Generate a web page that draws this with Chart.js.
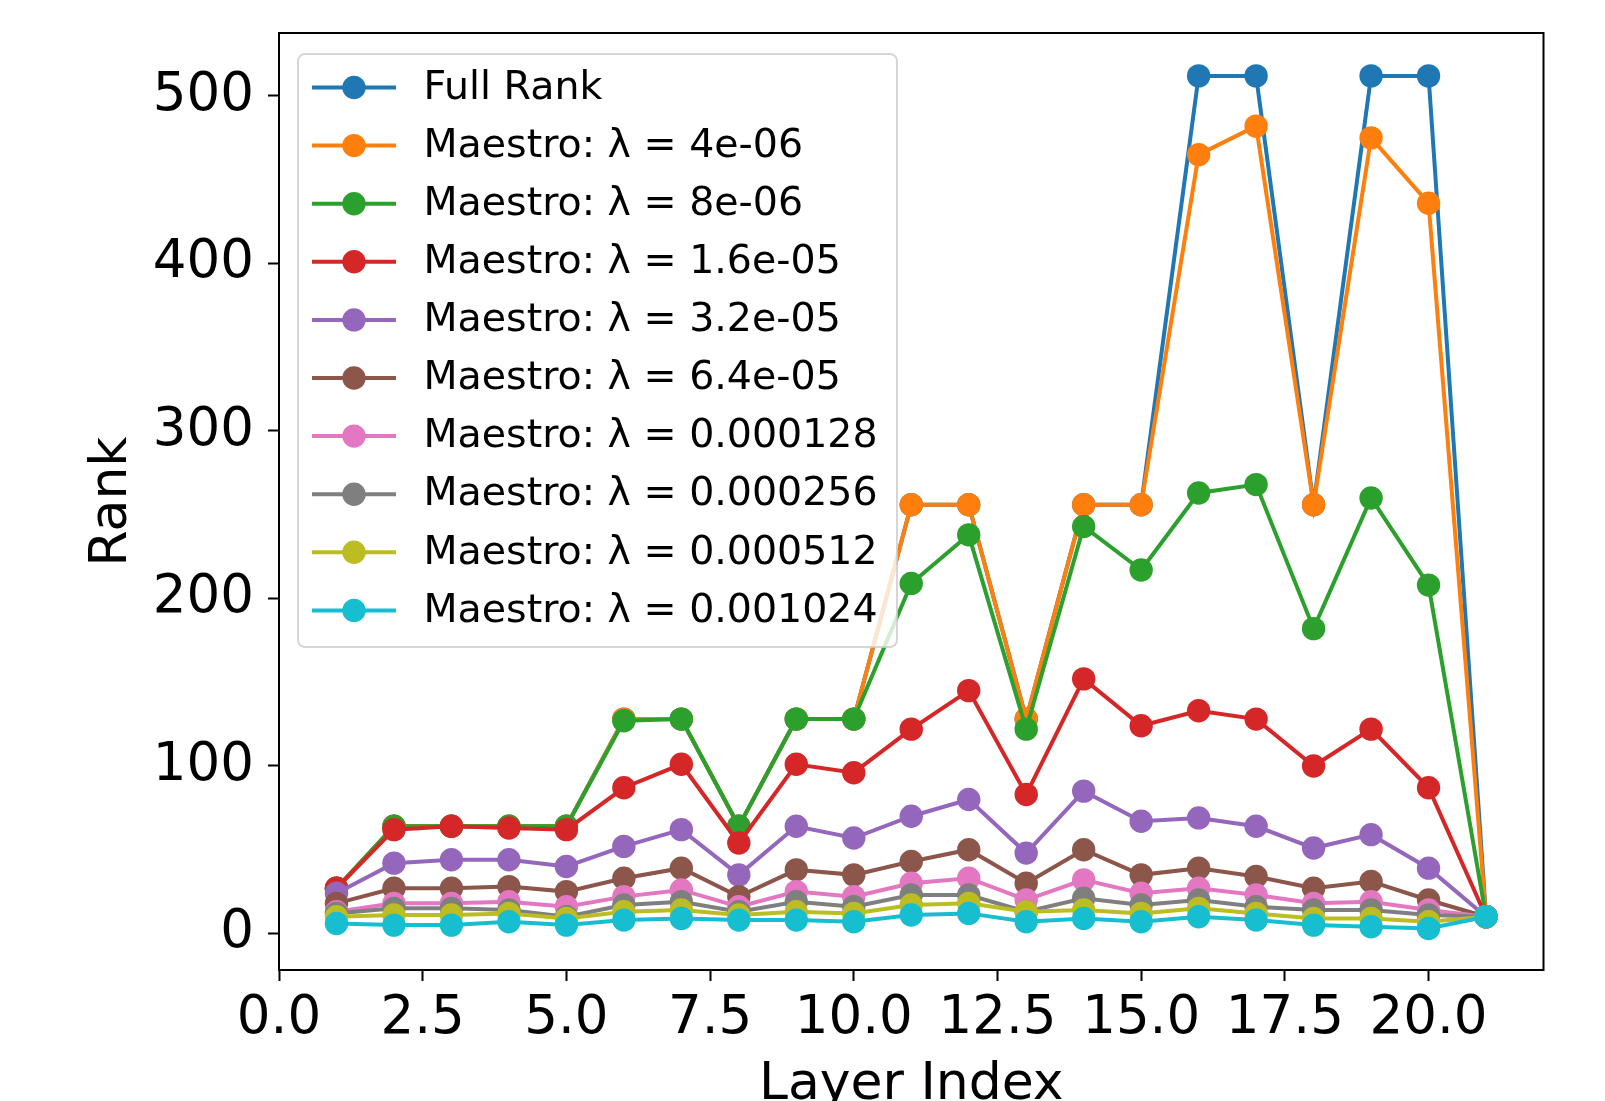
<!DOCTYPE html>
<html>
<head>
<meta charset="utf-8">
<script src="https://cdn.jsdelivr.net/npm/chart.js@4.4.0/dist/chart.umd.min.js"></script>
<style>
  body { margin: 0; background: #fff; }
  #wrap { width: 1605px; height: 1101px; }
</style>
</head>
<body>
<div id="wrap"><canvas id="myChart" width="1605" height="1101"></canvas></div>
<script>
const layers = [1, 2, 3, 4, 5, 6, 7, 8, 9, 10, 11, 12, 13, 14, 15, 16, 17, 18, 19, 20, 21];

const fullRank   = [27, 64, 64, 64, 64, 128, 128, 64, 128, 128, 256, 256, 128, 256, 256, 512, 512, 256, 512, 512, 10];
const lam4e6     = [27, 64, 64, 64, 64, 128, 128, 64, 128, 128, 256, 256, 128, 256, 256, 465, 482, 256, 475, 436, 10];
const lam8e6     = [27, 64, 64, 64, 64, 127, 128, 64, 128, 128, 209, 238, 122, 243, 217, 263, 268, 182, 260, 208, 10];
const lam16e6    = [27, 62, 64, 63, 62, 87, 101, 54, 101, 96, 122, 145, 83, 152, 124, 133, 128, 100, 122, 87, 10];
const lam32e6    = [24, 42, 44, 44, 40, 52, 62, 35, 64, 57, 70, 80, 48, 85, 67, 69, 64, 51, 59, 39, 10];
const lam64e6    = [18, 27, 27, 28, 25, 33, 39, 22, 38, 35, 43, 50, 30, 50, 35, 39, 34, 27, 31, 20, 10];
const lam128e6   = [13, 18, 18, 19, 16, 22, 26, 16, 25, 22, 30, 33, 20, 32, 24, 27, 23, 18, 19, 14, 10];
const lam256e6   = [12, 15, 15, 14, 10, 17, 19, 13, 19, 16, 23, 23, 13, 21, 17, 20, 16, 14, 14, 11, 10];
const lam512e6   = [10, 11, 11, 12, 9, 13, 14, 11, 13, 12, 17, 18, 13, 14, 12, 15, 12, 9, 9, 7, 10];
const lam1024e6  = [6, 5, 5, 7, 5, 8, 9, 8, 8, 7, 11, 12, 7, 9, 7, 10, 8, 5, 4, 3, 10];

const seriesLabels = [
  'Full Rank',
  'Maestro: λ = 4e-06',
  'Maestro: λ = 8e-06',
  'Maestro: λ = 1.6e-05',
  'Maestro: λ = 3.2e-05',
  'Maestro: λ = 6.4e-05',
  'Maestro: λ = 0.000128',
  'Maestro: λ = 0.000256',
  'Maestro: λ = 0.000512',
  'Maestro: λ = 0.001024'
];
const seriesValues = [fullRank, lam4e6, lam8e6, lam16e6, lam32e6, lam64e6, lam128e6, lam256e6, lam512e6, lam1024e6];
const seriesColors = ['#1f77b4', '#ff7f0e', '#2ca02c', '#d62728', '#9467bd', '#8c564b', '#e377c2', '#7f7f7f', '#bcbd22', '#17becf'];

const FONT = 'DejaVu Sans';

const datasets = seriesValues.map((vals, i) => ({
  label: seriesLabels[i],
  data: vals.map((v, j) => ({ x: layers[j], y: v })),
  borderColor: seriesColors[i],
  backgroundColor: seriesColors[i],
  pointBackgroundColor: seriesColors[i],
  pointBorderWidth: 0,
  pointRadius: 11.7,
  pointHoverRadius: 11.7,
  borderWidth: 4,
  tension: 0,
  // later series on top, like matplotlib
  order: seriesValues.length - i
}));

// box around the plot (matplotlib spines)
const framePlugin = {
  id: 'frame',
  afterDatasetsDraw(chart) {
    const { ctx, chartArea: a } = chart;
    ctx.save();
    ctx.strokeStyle = '#000';
    ctx.lineWidth = 2;
    ctx.strokeRect(a.left, a.top, a.right - a.left, a.bottom - a.top);
    ctx.restore();
  }
};

// legend drawn inside the axes, upper left
const legendPlugin = {
  id: 'innerLegend',
  afterDraw(chart) {
    const ctx = chart.ctx;
    const x0 = 298, y0 = 54, w = 599, h = 593, r = 7;
    ctx.save();
    ctx.beginPath();
    ctx.roundRect(x0, y0, w, h, r);
    ctx.fillStyle = 'rgba(255,255,255,0.8)';
    ctx.fill();
    ctx.strokeStyle = 'rgba(204,204,204,0.8)';
    ctx.lineWidth = 2;
    ctx.stroke();

    ctx.font = '39.5px "' + FONT + '"';
    ctx.textBaseline = 'middle';
    ctx.textAlign = 'left';
    chart.data.datasets.forEach((ds, i) => {
      const cy = 87.5 + i * 58.1;
      ctx.strokeStyle = ds.borderColor;
      ctx.lineWidth = 4;
      ctx.beginPath();
      ctx.moveTo(312, cy);
      ctx.lineTo(396, cy);
      ctx.stroke();
      ctx.fillStyle = ds.borderColor;
      ctx.beginPath();
      ctx.arc(354, cy, 11.7, 0, Math.PI * 2);
      ctx.fill();
      ctx.fillStyle = '#000';
      ctx.fillText(ds.label, 423.5, cy + 1);
    });
    ctx.restore();
  }
};

const ctx = document.getElementById('myChart');
const myChart = new Chart(ctx, {
  type: 'line',
  data: { datasets: datasets },
  options: {
    responsive: false,
    animation: false,
    events: [],
    layout: { padding: { top: 33, right: 61.5, left: 0, bottom: 0 } },
    plugins: {
      legend: { display: false },
      tooltip: { enabled: false }
    },
    scales: {
      x: {
        type: 'linear',
        min: 0,
        max: 22,
        afterFit(scale) {
          scale.height = 131;
          scale.paddingLeft = 0;
          scale.paddingRight = 0;
        },
        border: { display: false },
        grid: { drawOnChartArea: false, drawTicks: true, tickLength: 11, tickWidth: 2, tickColor: '#000' },
        ticks: {
          stepSize: 2.5,
          includeBounds: false,
          maxRotation: 0,
          autoSkip: false,
          padding: 6.5,
          color: '#000',
          font: { family: FONT, size: 53 },
          callback: (v) => Number(v).toFixed(1)
        },
        title: {
          display: true,
          text: 'Layer Index',
          color: '#000',
          font: { family: FONT, size: 52, lineHeight: 1 },
          padding: { top: 0, bottom: -10 }
        }
      },
      y: {
        type: 'linear',
        min: -21.8,
        max: 537.6,
        afterFit(scale) {
          scale.width = 279;
          scale.paddingTop = 0;
          scale.paddingBottom = 0;
        },
        border: { display: false },
        grid: { drawOnChartArea: false, drawTicks: true, tickLength: 11, tickWidth: 2, tickColor: '#000' },
        ticks: {
          stepSize: 100,
          includeBounds: false,
          padding: 14,
          color: '#000',
          font: { family: FONT, size: 53 },
          callback: (v) => String(v)
        },
        title: {
          display: true,
          text: 'Rank',
          color: '#000',
          font: { family: FONT, size: 52, lineHeight: 1 },
          padding: { top: 86, bottom: 0 }
        }
      }
    }
  },
  plugins: [framePlugin, legendPlugin]
});
</script>
</body>
</html>
